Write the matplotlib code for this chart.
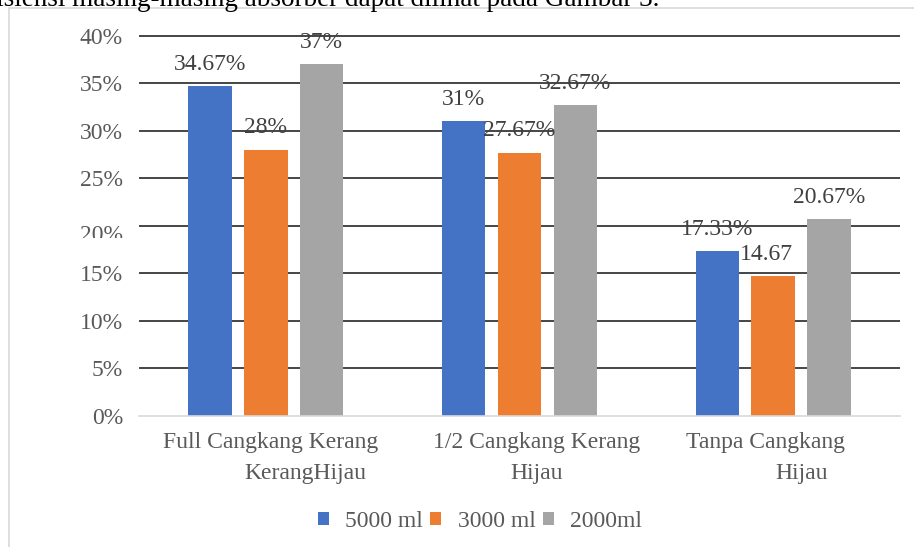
import matplotlib
matplotlib.use("Agg")
import matplotlib.pyplot as plt
from matplotlib.patches import Rectangle
from matplotlib.transforms import Bbox, TransformedBbox

# ---- data ----
categories_line1 = ["Full Cangkang Kerang", "1/2 Cangkang Kerang", "Tanpa Cangkang"]
categories_line2 = ["KerangHijau", "Hijau", "Hijau"]
series_names = ["5000 ml", "3000 ml", "2000ml"]
values_5000 = [34.67, 31.0, 17.33]
values_3000 = [28.0, 27.67, 14.67]
values_2000 = [37.0, 32.67, 20.67]
labels_5000 = ["34.67%", "31%", "17.33%"]
labels_3000 = ["28%", "27.67%", "14.67"]
labels_2000 = ["37%", "32.67%", "20.67%"]
y_ticks = [0, 5, 10, 15, 20, 25, 30, 35, 40]
y_tick_labels = ["0%", "5%", "10%", "15%", "20%", "25%", "30%", "35%", "40%"]
caption = "efisiensi masing-masing absorber dapat dilihat pada Gambar 3."

# ---- style ----
plt.rcParams["font.family"] = ["Liberation Serif", "DejaVu Serif"]
colors = ["#4472c4", "#ed7d31", "#a5a5a5"]
text_gray = "#595959"
W, H = 914, 547
FS = 17

fig = plt.figure(figsize=(W / 100, H / 100), dpi=100)
ax = fig.add_axes([139 / W, 1 - 415.7 / H, (900 - 139) / W, 380 / H])
ax.set_xlim(-0.5, 2.5)
ax.set_ylim(0, 40)

# horizontal grid lines (above zero)
ax.hlines(y_ticks[1:], -0.5, 2.5, color="#262626", lw=1.2, zorder=0.5, clip_on=False)

# bars
series = [values_5000, values_3000, values_2000]
series_labels = [labels_5000, labels_3000, labels_2000]
step, width = 0.2205, 0.171
handles = []
for i, (vals, labs, col) in enumerate(zip(series, series_labels, colors)):
    xs = [g + (i - 1) * step for g in range(len(vals))]
    bc = ax.bar(xs, vals, width=width, color=col, zorder=1)
    handles.append(bc)
    for x, v, lab in zip(xs, vals, labs):
        dx = -5 if not lab.endswith("%") else 0
        ax.annotate(lab, (x, v), xytext=(dx, 15.8), textcoords="offset points",
                    ha="center", va="center", fontsize=FS, color="#404040", zorder=3)

# axes styling
for side in ["top", "right", "left"]:
    ax.spines[side].set_visible(False)
ax.spines["bottom"].set_color("#d9d9d9")
ax.spines["bottom"].set_linewidth(1.2)
ax.set_xticks([])
ax.set_yticks(y_ticks)
ax.set_yticklabels(y_tick_labels)
ax.tick_params(axis="y", length=0, pad=11.5, labelsize=FS, labelcolor=text_gray)

# the 20% label sits slightly lower and is cut off at its base
t20 = ax.yaxis.get_major_ticks()[4].label1
t20.set_visible(False)
lbl = ax.annotate(y_tick_labels[4], (0, 20), xycoords=ax.get_yaxis_transform(),
                  xytext=(-11.5, -7.2), textcoords="offset points",
                  ha="right", va="center", fontsize=FS, color=text_gray,
                  annotation_clip=False)
lbl.set_clip_on(True)
lbl.set_clip_box(TransformedBbox(Bbox.from_extents(0, 1 - 237.7 / H, 1, 1), fig.transFigure))

# category labels (two lines each)
xt = ax.get_xaxis_transform()
off1 = [0.02, 0.067, -0.031]
off2 = [0.157, 0.067, 0.114]
for g in range(len(categories_line1)):
    ax.text(g + off1[g], -0.0718, categories_line1[g], transform=xt, ha="center",
            va="center", fontsize=FS, color=text_gray)
    ax.text(g + off2[g], -0.151, categories_line2[g], transform=xt, ha="center",
            va="center", fontsize=FS, color=text_gray)

# legend
fig.legend(handles, series_names, loc="center", bbox_to_anchor=(480 / W, 1 - 521.7 / H),
           ncol=3, frameon=False, handlelength=0.47, handleheight=0.49,
           handletextpad=0.7, columnspacing=0.29, borderpad=0, fontsize=FS,
           labelcolor=text_gray)

# chart frame and the line of body text above it
fig.add_artist(Rectangle((9 / W, -0.1), 1.2, 1 - 8 / H + 0.1, transform=fig.transFigure,
                         fill=False, edgecolor="#d9d9d9", lw=1.2))
fig.text(-25 / W, 1 - 6 / H, caption, ha="left", va="baseline", fontsize=19.5, color="black")

fig.savefig("out.png", dpi=100)
